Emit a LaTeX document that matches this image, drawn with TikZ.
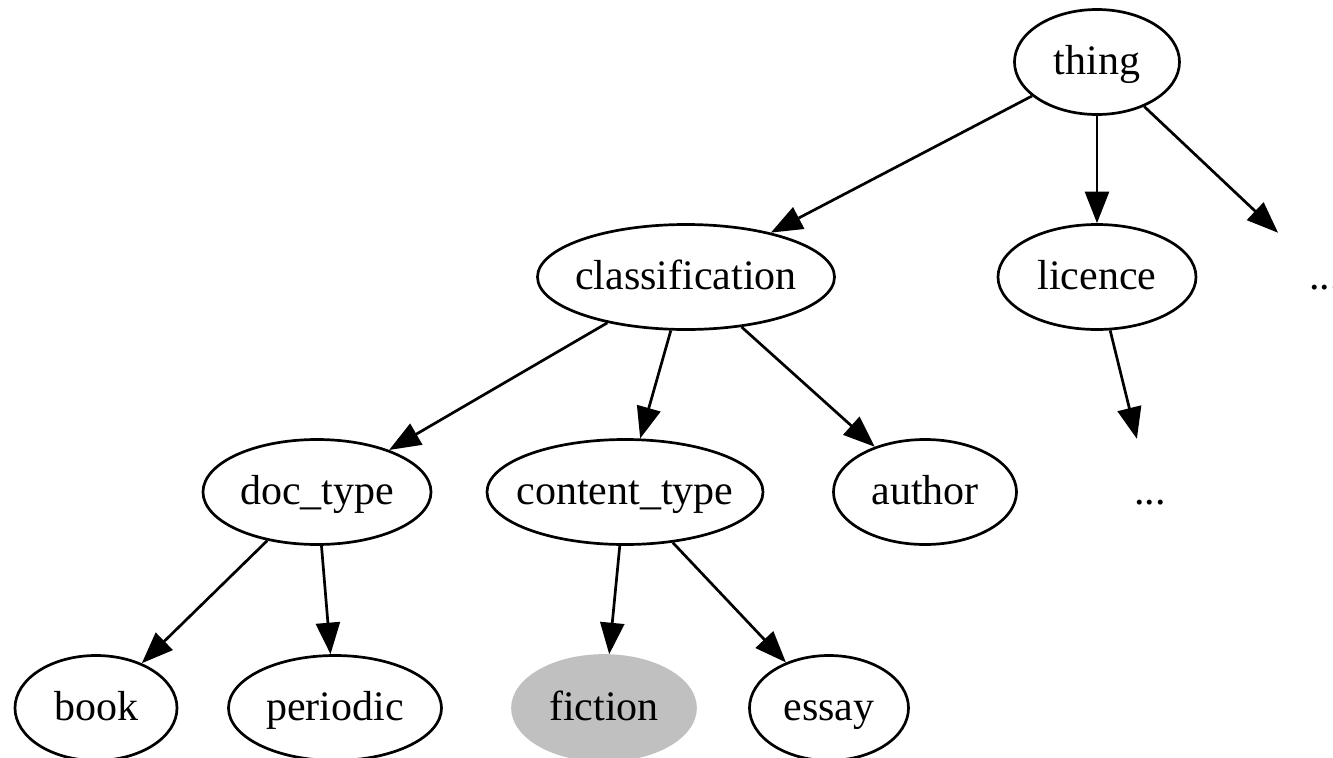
\documentclass[tikz,border=0pt]{standalone}
\usepackage{fontspec}
\setmainfont{Liberation Serif}
\usetikzlibrary{shapes.geometric,arrows.meta}
\definecolor{fictiongray}{RGB}{192,192,192}
\begin{document}
\begin{tikzpicture}[x=0.33333pt,y=-0.33333pt,
  nd/.style={ellipse, draw, line width=0.9pt, minimum height=35pt, inner sep=-5pt,
             text height=11pt, text depth=2.5pt,
             font=\fontsize{14}{16}\selectfont},
  hid/.style={nd, draw=none},
  gr/.style={nd, draw=fictiongray, fill=fictiongray},
  edge/.style={line width=0.9pt, -{Triangle[length=10.5pt,width=8pt]}}]
\useasboundingbox (0,0) rectangle (1333,758);
\node[nd, minimum width=55pt] (thing) at (1097,62) {thing};
\node[nd, minimum width=99pt] (classification) at (686,277) {classification};
\node[nd, minimum width=66pt] (licence) at (1097,277) {licence};
\node[hid, minimum width=54pt] (more1) at (1325,277) {...};
\node[nd, minimum width=76pt] (doctype) at (317,492) {doc\_type};
\node[nd, minimum width=92pt] (contenttype) at (625,492) {content\_type};
\node[nd, minimum width=61pt] (author) at (925,492) {author};
\node[hid, minimum width=54pt] (more2) at (1150,492) {...};
\node[nd, minimum width=54pt] (book) at (96,708) {book};
\node[nd, minimum width=71pt] (periodic) at (335,708) {periodic};
\node[gr, minimum width=61pt] (fiction) at (604,708) {fiction};
\node[nd, minimum width=53pt] (essay) at (829,708) {essay};
\draw[edge] (thing) -- (classification);
\draw[edge] (thing) -- (licence);
\draw[edge] (thing) -- (more1);
\draw[edge] (licence) -- (more2);
\draw[edge] (classification) -- (doctype);
\draw[edge] (classification) -- (contenttype);
\draw[edge] (classification) -- (author);
\draw[edge] (doctype) -- (book);
\draw[edge] (doctype) -- (periodic);
\draw[edge] (contenttype) -- (fiction);
\draw[edge] (contenttype) -- (essay);
\end{tikzpicture}
\end{document}
